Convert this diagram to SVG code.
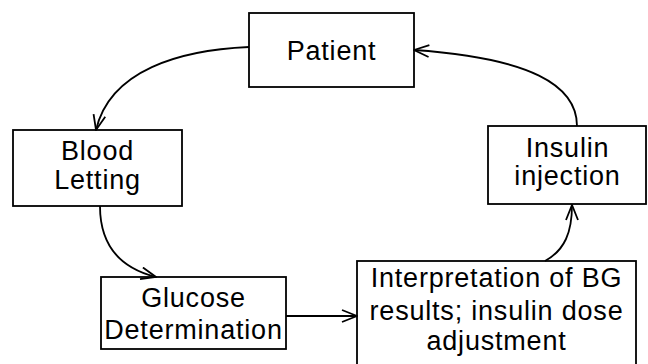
<svg xmlns="http://www.w3.org/2000/svg" width="648" height="364" viewBox="0 0 648 364">
<style>
.box{fill:#fff;stroke:#000;stroke-width:1.8}
.t{font-family:"Liberation Sans",Arial,sans-serif;font-size:27px;fill:#000;text-anchor:middle;letter-spacing:0.8px}
.c{fill:none;stroke:#000;stroke-width:1.8}
</style>
<defs>
<marker id="ah" viewBox="0 0 17 14" refX="16" refY="7" markerWidth="17" markerHeight="14" markerUnits="userSpaceOnUse" orient="auto">
<path d="M1,1 L16,7 L1,13" fill="none" stroke="#000" stroke-width="1.8"/>
</marker>
</defs>
<rect width="648" height="364" fill="#fff"/>
<g id="patient"><rect class="box" x="249" y="13" width="165" height="74"/><text class="t" x="331.5" y="60">Patient</text></g>
<g id="blood-letting"><rect class="box" x="13" y="130" width="169" height="76"/><text class="t" x="97.5" y="160">Blood</text><text class="t" x="97.5" y="189">Letting</text></g>
<g id="glucose"><rect class="box" x="101" y="277" width="185" height="72"/><text class="t" x="193.5" y="307">Glucose</text><text class="t" x="193.5" y="339">Determination</text></g>
<g id="interpretation"><rect class="box" x="357" y="261" width="279" height="106"/><text class="t" x="496.5" y="287">Interpretation of BG</text><text class="t" x="496.5" y="320">results; insulin dose</text><text class="t" x="496.5" y="350">adjustment</text></g>
<g id="insulin"><rect class="box" x="488" y="126" width="158" height="78"/><text class="t" x="567.5" y="157">Insulin</text><text class="t" x="567.5" y="185">injection</text></g>
<g id="connectors">
<path class="c" d="M577,126 C577,85 530,58 414,50" marker-end="url(#ah)"/>
<path class="c" d="M249,47 C180,50 110,70 96,130" marker-end="url(#ah)"/>
<path class="c" d="M100,206 C100,245 120,268 156,277" marker-end="url(#ah)"/>
<path class="c" d="M286,316 L357,316" marker-end="url(#ah)"/>
<path class="c" d="M545,261 C565,250 572,232 572,205" marker-end="url(#ah)"/>
</g>
</svg>
